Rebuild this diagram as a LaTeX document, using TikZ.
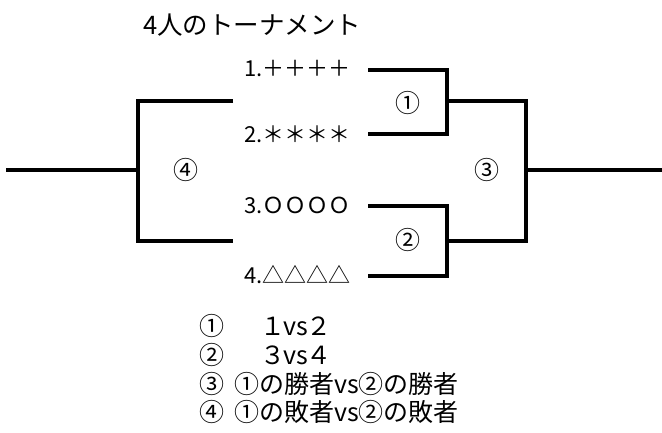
\documentclass[tikz,border=0pt]{standalone}
\usepackage{fontspec}
\setmainfont{Noto Sans CJK JP}
\begin{document}
\begin{tikzpicture}[x=1pt,y=-1pt,
  br/.style={line width=3.2pt, line cap=butt, line join=miter},
  lbl/.style={inner sep=0pt, anchor=west, font=\fontsize{22}{22}\selectfont},
  leg/.style={inner sep=0pt, anchor=west, font=\fontsize{25}{25}\selectfont},
  matchno/.style={inner sep=0pt, font=\fontsize{25}{25}\selectfont}]
\useasboundingbox (0,0) rectangle (662,432);
% title
\node[lbl, font=\fontsize{25.5}{25.5}\selectfont] (title) at (143,25) {4人のトーナメント};
% players
\node[lbl] (p1) at (244,69) {1.＋＋＋＋};
\node[lbl] (p2) at (244,134) {2.＊＊＊＊};
\node[lbl] (p3) at (244,205) {3.ＯＯＯＯ};
\node[lbl] (p4) at (244,275) {4.△△△△};
% coordinates
\coordinate (a1) at (368,70);  \coordinate (b1) at (447,70);
\coordinate (a2) at (368,134); \coordinate (b2) at (447,134);
\coordinate (a3) at (368,206); \coordinate (b3) at (447,206);
\coordinate (a4) at (368,276); \coordinate (b4) at (447,276);
\coordinate (m1) at (447,101); \coordinate (r1) at (526,101);
\coordinate (m2) at (447,241); \coordinate (r2) at (526,241);
\coordinate (rc) at (526,170); \coordinate (re) at (662,170);
\coordinate (l1) at (233,101); \coordinate (k1) at (138,101);
\coordinate (l2) at (233,241); \coordinate (k2) at (138,241);
\coordinate (kc) at (138,170); \coordinate (ke) at (6,170);
% bracket lines
\draw[br] (a1) -- (b1) -- (b2) -- (a2);
\draw[br] (a3) -- (b3) -- (b4) -- (a4);
\draw[br] (m1) -- (r1) -- (r2) -- (m2);
\draw[br] (rc) -- (re);
\draw[br] (l1) -- (k1) -- (k2) -- (l2);
\draw[br] (kc) -- (ke);
% match marks
\node[matchno] (c1) at (408,103) {①};
\node[matchno] (c2) at (408,240) {②};
\node[matchno] (c3) at (487,170) {③};
\node[matchno] (c4) at (186,170) {④};
% legend
\node[leg] (g1) at (199,326) {①};
\node[leg] (t1) at (260,326) {１\kern-1.5pt vs\kern-1.5pt ２};
\node[leg] (g2) at (199,355) {②};
\node[leg] (t2) at (260,355) {３\kern-1.5pt vs\kern-1.5pt ４};
\node[leg] (g3) at (199,384) {③};
\node[leg] (t3) at (234,384) {①の勝者vs②の勝者};
\node[leg] (g4) at (199,412) {④};
\node[leg] (t4) at (234,412) {①の敗者vs②の敗者};
\end{tikzpicture}
\end{document}
